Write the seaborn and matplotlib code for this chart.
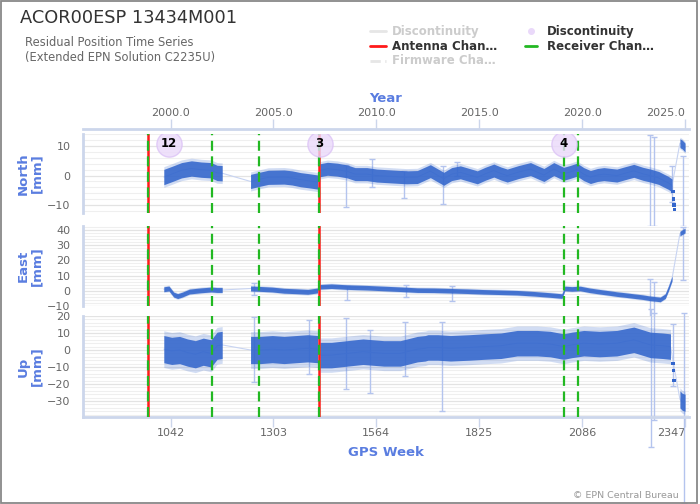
"""
EPN 残差坐标时间序列 (ACOR00ESP) —— North / East / Up 三个分量
输出: out.png
"""

import numpy as np
import pandas as pd
import matplotlib
matplotlib.use("Agg")
import matplotlib.pyplot as plt
import seaborn as sns
from matplotlib.lines import Line2D
from matplotlib.patches import Rectangle
from matplotlib.ticker import MultipleLocator

sns.set_theme(style="white")
plt.rcParams["font.family"] = ["DejaVu Sans"]

# ============================================================
# 数据 (从图上读出, GPS week / mm)
# ============================================================
north_week = [1025, 1045, 1070, 1095, 1120, 1145, 1160, 1173,
              1245, 1270, 1290, 1330, 1350, 1372, 1395, 1415,
              1421, 1440, 1465, 1490, 1510, 1540, 1565, 1590, 1615, 1640,
              1668, 1701, 1735, 1755, 1777, 1800, 1820, 1840, 1862, 1880,
              1896, 1925, 1955, 1975, 1989, 2014, 2039, 2055, 2073, 2090,
              2107, 2125, 2141, 2160, 2174, 2195, 2217, 2240, 2259, 2280,
              2293, 2305, 2314,
              2334, 2340, 2347]
north_mm = [-0.5, 0.5, 1.8, 2.4, 2.0, 1.8, 0.9, 0.8,
            -2.0, -1.2, -0.6, -0.5, -0.8, -1.4, -1.8, -2.2,
            1.8, 2.3, 2.0, 1.4, 0.5, 0.5, 0.0, -0.2, -0.4, -0.6,
            -0.5, 1.5, -1.1, 0.5, 1.1, 0.2, -0.6, 0.6, 1.7, 0.7,
            0.0, 1.2, 2.2, 1.0, 0.2, 2.2, 0.6, 1.2, 2.0, 0.5,
            -0.5, 0.2, 0.5, 0.2, 0.0, 0.8, 1.6, 0.6, 0.0, -0.8,
            -1.7, -2.5, -3.4,
            11.0, 10.5, 9.5]
north_seg_start = [1025, 1245, 1421, 2334]
north_spread = [2.6, 2.4, 2.2, 1.5]
north_out_week = [2316, 2318, 2319, 2320]
north_out_mm = [-5.5, -8.0, -10.0, -11.5]

east_week = [1025, 1038, 1050, 1060, 1072, 1090, 1120, 1145, 1160, 1173,
             1245, 1270, 1300, 1330, 1360, 1390, 1415,
             1421, 1450, 1490, 1540, 1583, 1625, 1668, 1710, 1752, 1795,
             1836, 1880, 1921, 1965, 2005, 2035, 2042, 2060, 2081, 2105,
             2132, 2155, 2174, 2195, 2217, 2240, 2259, 2284, 2297, 2305,
             2314,
             2334, 2340, 2347]
east_mm = [1.0, 1.5, -2.5, -3.5, -2.5, -0.5, 0.3, 0.8, 0.5, 0.5,
           1.5, 1.2, 0.8, 0.0, -0.3, -0.7, 0.2,
           2.6, 3.0, 2.4, 2.0, 1.5, 1.0, 0.4, 0.3, 0.0, -0.3,
           -0.7, -1.0, -1.3, -2.0, -2.8, -3.5, 1.5, 1.2, 1.5, 0.3,
           -0.7, -1.5, -2.2, -2.8, -3.5, -4.2, -5.0, -5.7, -3.5, 1.5,
           8.0,
           37.5, 38.5, 39.5]
east_seg_start = [1025, 1245, 1421, 2334]
east_spread = [1.6, 1.6, 1.5, 1.5]
east_out_week = []
east_out_mm = []

up_week = [1025, 1045, 1065, 1085, 1105, 1125, 1145, 1160, 1173,
           1245, 1270, 1300, 1330, 1360, 1390, 1415,
           1421, 1450, 1490, 1530, 1583, 1625, 1668, 1688, 1695, 1720,
           1752, 1800, 1836, 1880, 1921, 1972, 2005, 2039, 2060, 2090,
           2130, 2174, 2217, 2259, 2290, 2310,
           2334, 2340, 2347]
up_mm = [0.5, -0.5, 0.0, -1.5, -2.5, -1.0, -2.0, 2.5, 3.0,
         0.0, 0.0, 0.5, 0.0, 0.5, 1.0, 0.5,
         -3.0, -3.0, -2.0, -1.0, -2.0, -2.0, 0.5, 1.0, 1.5, 1.5,
         1.0, 1.5, 2.0, 2.5, 4.0, 4.0, 3.5, 2.0, 3.0, 4.0,
         3.5, 4.0, 6.0, 3.0, 2.5, 2.0,
         -29.0, -30.5, -31.0]
up_seg_start = [1025, 1245, 1421, 2334]
up_spread = [8.0, 8.0, 7.5, 5.0]
up_out_week = [2316, 2318, 2319]
up_out_mm = [-8.0, -12.0, -18.0]

# 误差棒 (week, 下限, 上限)
north_err_week = [1487, 1553, 1634, 1733, 1769, 2259, 2267, 2315, 2343]
north_err_lo = [-10.5, -4.0, -7.5, -9.8, 0.0, -17.0, -17.0, -9.0, -17.0]
north_err_hi = [3.7, 5.7, 1.7, 3.4, 4.5, 13.8, 13.2, 3.4, 6.8]
east_err_week = [1253, 1490, 1640, 1755, 2259, 2267, 2343]
east_err_lo = [-2.5, -6.0, -4.0, -7.0, -20.0, -20.0, 7.0]
east_err_hi = [5.0, 3.0, 4.0, 3.0, 7.6, 6.0, 41.6]
up_err_week = [1253, 1392, 1487, 1548, 1636, 1730, 2261, 2267, 2317, 2344]
up_err_lo = [-18.6, -14.0, -23.0, -25.0, -15.5, -35.8, -57.0, -41.0, -21.0, -90.0]
up_err_hi = [19.6, 17.8, 18.9, 12.0, 16.6, 16.6, 24.0, 22.0, 15.5, 22.0]

# 事件
antenna_weeks = [986, 1419]
receiver_weeks = [986, 1146, 1267, 1419, 2040, 2076]
disc_week = [1037, 1420, 2039]
disc_mm = [10.8, 10.8, 10.8]
disc_count = ["12", "3", "4"]

# 坐标轴刻度
gps_ticks = [1042, 1303, 1564, 1825, 2086, 2347]
year_labels = ["2000.0", "2005.0", "2010.0", "2015.0", "2020.0", "2025.0"]

# ============================================================
# 样式
# ============================================================
W, H = 700, 504
BLUE = "#3366cc"
ERR = "#b4c4ee"
AXIS_LINE = "#ccd6eb"
LABEL_BLUE = "#5a7de0"
TICK_GRAY = "#666666"
RED = "#ff1a1a"
GREEN = "#22b822"
XLIM = (820, 2357)

fig = plt.figure(figsize=(W / 100, H / 100), dpi=100)


def px_axes(top, bottom, left=83, right=689):
    return fig.add_axes([left / W, 1 - bottom / H, (right - left) / W, (bottom - top) / H])


def draw_panel(ax, week, mm, seg_start, spread, out_w, out_m,
               err_w, err_lo, err_hi, ylim, yticks, label):
    df = pd.DataFrame({"week": week, "mm": mm})
    df["seg"] = np.searchsorted(seg_start, df["week"], side="right") - 1

    # 网格
    ax.set_xlim(*XLIM)
    ax.set_ylim(*ylim)
    ax.set_yticks(yticks)
    ax.yaxis.set_minor_locator(MultipleLocator(2))
    ax.grid(True, which="major", axis="y", color="#e3e3e3", lw=0.9)
    ax.grid(True, which="minor", axis="y", color="#efefef", lw=0.8)
    ax.set_axisbelow(True)

    # 误差棒
    eb = ax.errorbar(err_w, (np.array(err_lo) + np.array(err_hi)) / 2,
                     yerr=(np.array(err_hi) - np.array(err_lo)) / 2,
                     fmt="none", ecolor=ERR, elinewidth=1, capsize=2, zorder=1.5)
    for art in list(eb.lines[1]) + list(eb.lines[2]):
        art.set_clip_on(False)

    # 跨越数据缺口的细连线
    sns.lineplot(data=df, x="week", y="mm", estimator=None, sort=True,
                 color="#c8d4f2", lw=0.8, ax=ax, zorder=1.6)

    # 每段的散点带
    for s, g in df.groupby("seg"):
        w = g["week"].to_numpy()
        m = g["mm"].to_numpy()
        hw = spread[s]
        ax.fill_between(w, m - 1.35 * hw, m + 1.35 * hw, color=BLUE, alpha=0.22, lw=0, zorder=2)
        ax.fill_between(w, m - hw, m + hw, color=BLUE, alpha=0.88, lw=0, zorder=2.1)

    if len(out_w):
        sns.scatterplot(x=out_w, y=out_m, color=BLUE, marker="s", s=6,
                        edgecolor="none", ax=ax, zorder=2.2)

    # 天线 / 接收机变更
    for w in antenna_weeks:
        ax.axvline(w, color=RED, lw=1.8, zorder=3)
    for w in receiver_weeks:
        ax.axvline(w, color=GREEN, lw=1.6, ls=(0, (4.5, 2.5)), zorder=3.5)

    # 坐标轴外观
    for side in ["top", "right", "bottom"]:
        ax.spines[side].set_visible(False)
    ax.spines["left"].set_color(AXIS_LINE)
    ax.spines["left"].set_linewidth(2)
    ax.tick_params(axis="y", which="both", length=0, labelsize=8,
                   labelcolor=TICK_GRAY, pad=9)
    ax.tick_params(axis="x", which="both", bottom=False, labelbottom=False)
    ax.set_xlabel("")
    ax.set_ylabel(label, color=LABEL_BLUE, fontsize=9.5, fontweight="bold",
                  linespacing=1.0)
    ax.yaxis.set_label_coords(-0.066, 0.5)


ax_n = px_axes(134, 213)
ax_e = px_axes(226, 306)
ax_u = px_axes(316, 417)

draw_panel(ax_n, north_week, north_mm, north_seg_start, north_spread,
           north_out_week, north_out_mm, north_err_week, north_err_lo, north_err_hi,
           (-12.7, 14.1), [-10, 0, 10], "North\n[mm]")
draw_panel(ax_e, east_week, east_mm, east_seg_start, east_spread,
           east_out_week, east_out_mm, east_err_week, east_err_lo, east_err_hi,
           (-10, 42.5), [-10, 0, 10, 20, 30, 40], "East\n[mm]")
draw_panel(ax_u, up_week, up_mm, up_seg_start, up_spread,
           up_out_week, up_out_mm, up_err_week, up_err_lo, up_err_hi,
           (-39.4, 20), [-30, -20, -10, 0, 10, 20], "Up\n[mm]")

# 不连续点标记
sns.scatterplot(x=disc_week, y=disc_mm, s=330, color="#ead9fa", edgecolor="#dcc3f6",
                linewidth=1, alpha=0.8, ax=ax_n, zorder=5)
for w, m, c in zip(disc_week, disc_mm, disc_count):
    ax_n.text(w, m, c, ha="center", va="center", fontsize=8.5,
              fontweight="bold", color="black", zorder=6)

# 底部 GPS Week 轴
ax_u.spines["bottom"].set_visible(True)
ax_u.spines["bottom"].set_color(AXIS_LINE)
ax_u.spines["bottom"].set_linewidth(2)
ax_u.set_xticks(gps_ticks)
ax_u.set_xticklabels([str(t) for t in gps_ticks])
ax_u.tick_params(axis="x", which="major", bottom=True, labelbottom=True,
                 length=7, width=1, color=AXIS_LINE, labelsize=8,
                 labelcolor=TICK_GRAY, pad=1)
ax_u.get_xticklabels()[-1].set_horizontalalignment("right")
ax_u.set_xlabel("GPS Week", color=LABEL_BLUE, fontsize=9.5,
                fontweight="bold", labelpad=6)

# 顶部 Year 轴
sec = ax_n.secondary_xaxis(1.057)
sec.set_xticks(gps_ticks)
sec.set_xticklabels(year_labels)
sec.spines["top"].set_color(AXIS_LINE)
sec.spines["top"].set_linewidth(2)
sec.tick_params(axis="x", length=7, width=1, color=AXIS_LINE, labelsize=8,
                labelcolor=TICK_GRAY, pad=1.5)
sec.get_xticklabels()[-1].set_horizontalalignment("right")
sec.set_xlabel("Year", color=LABEL_BLUE, fontsize=9.5, fontweight="bold",
               labelpad=4)

# 标题
fig.text(20 / W, 1 - 18 / H, "ACOR00ESP 13434M001", fontsize=12.8,
         color="#333333", va="center", ha="left")
fig.text(25 / W, 1 - 42 / H, "Residual Position Time Series", fontsize=8.3,
         color=TICK_GRAY, va="center", ha="left")
fig.text(25 / W, 1 - 57 / H, "(Extended EPN Solution C2235U)", fontsize=8.3,
         color=TICK_GRAY, va="center", ha="left")

# 图例 (手动排布)
legend_rows = [31, 46, 61]
col1 = [("Discontinuity", "#e6e6e6", "-", "#cccccc"),
        ("Antenna Chan…", RED, "-", "#333333"),
        ("Firmware Cha…", "#e6e6e6", "--", "#cccccc")]
for (txt, lc, ls, tc), y in zip(col1, legend_rows):
    fig.add_artist(Line2D([370 / W, 386 / W], [1 - y / H] * 2, color=lc, ls=ls,
                          lw=2, transform=fig.transFigure))
    fig.text(392 / W, 1 - y / H, txt, fontsize=8.5, fontweight="bold",
             color=tc, va="center")
fig.add_artist(Line2D([531 / W], [1 - 31 / H], marker="o", ms=4, color="#ead9fa",
                      transform=fig.transFigure))
fig.text(547 / W, 1 - 31 / H, "Discontinuity", fontsize=8.5, fontweight="bold",
         color="#333333", va="center")
fig.add_artist(Line2D([525 / W, 537 / W], [1 - 46 / H] * 2, color=GREEN, lw=2,
                      transform=fig.transFigure))
fig.text(547 / W, 1 - 46 / H, "Receiver Chan…", fontsize=8.5, fontweight="bold",
         color="#333333", va="center")

# 版权 + 外框
fig.text(679 / W, 1 - 495 / H, "© EPN Central Bureau", fontsize=6.8,
         color="#999999", ha="right", va="center")
fig.add_artist(Rectangle((0.5 / W, 0.8 / H), 696 / W, 502.5 / H, fill=False,
                         ec="#888888", lw=1.3, transform=fig.transFigure))

fig.savefig("out.png", dpi=100)
plt.close(fig)
